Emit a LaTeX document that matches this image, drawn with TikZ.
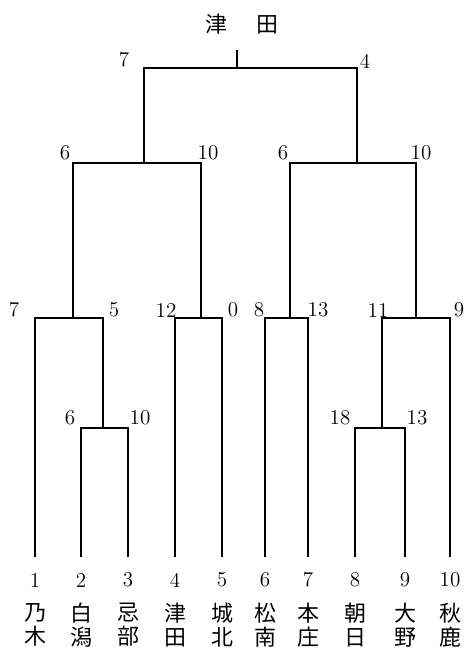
\documentclass[tikz,border=0pt]{standalone}
\usepackage{fontspec}
\newfontfamily\cjk{Noto Sans CJK JP}
\usetikzlibrary{positioning}

\begin{document}
\begin{tikzpicture}[
    x=0.02cm, y=-0.02cm,
    % bracket lines: path of a winning side heavier
    win/.style={line width=1.5pt, draw=black},
    lose/.style={line width=0.9pt, draw=black},
    score/.style={font=\fontsize{12}{13}\selectfont, inner sep=1pt},
    seed/.style={font=\fontsize{12}{13}\selectfont, inner sep=1pt},
    team/.style={font=\cjk\fontsize{12.5}{13.8}\selectfont,
                 align=center, inner sep=0pt}
]
\useasboundingbox (0,0) rectangle (466,653);
% ── TEAMS: seed number and school name ────────────────────────
\node[seed] (n1)  at ( 35,580) {1};   \node[team] (t1)  at ( 35,625) {乃\\木};
\node[seed] (n2)  at ( 81,580) {2};   \node[team] (t2)  at ( 81,625) {白\\潟};
\node[seed] (n3)  at (128,580) {3};   \node[team] (t3)  at (128,625) {忌\\部};
\node[seed] (n4)  at (175,580) {4};   \node[team] (t4)  at (175,625) {津\\田};
\node[seed] (n5)  at (222,580) {5};   \node[team] (t5)  at (222,625) {城\\北};
\node[seed] (n6)  at (265,580) {6};   \node[team] (t6)  at (265,625) {松\\南};
\node[seed] (n7)  at (308,580) {7};   \node[team] (t7)  at (308,625) {本\\庄};
\node[seed] (n8)  at (355,580) {8};   \node[team] (t8)  at (355,625) {朝\\日};
\node[seed] (n9)  at (405,580) {9};   \node[team] (t9)  at (405,625) {大\\野};
\node[seed] (n10) at (450,580) {10};  \node[team] (t10) at (450,625) {秋\\鹿};
% foot of each bracket line
\foreach \i/\xx in {1/35, 2/81, 3/128, 4/175, 5/222,
                    6/265, 7/308, 8/355, 9/405, 10/450}
    \coordinate (f\i) at (\xx,557);
% ── MATCH POINTS ──────────────────────────────────────────────
\coordinate (m23)  at (103,428);
\coordinate (m89)  at (382,428);
\coordinate (r1)   at ( 73,318);
\coordinate (r2)   at (201,318);
\coordinate (r3)   at (290,318);
\coordinate (r4)   at (416,318);
\coordinate (s1)   at (144,163);
\coordinate (s2)   at (357,163);
\coordinate (fin)  at (237, 68);
\coordinate (champ) at (237,50);
% ── FIRST ROUND ───────────────────────────────────────────────
\draw[lose] (f2) |- (m23);
\draw[win]  (f3) |- (m23);
\draw[win]  (f8) |- (m89);
\draw[lose] (f9) |- (m89);
\node[score] (sc2)  at ( 70,418) {6};
\node[score] (sc3)  at (140,418) {10};
\node[score] (sc8)  at (340,418) {18};
\node[score] (sc9)  at (417,418) {13};
% ── SECOND ROUND ──────────────────────────────────────────────
\draw[win]  (f1)  |- (r1);
\draw[win]  (m23) |- (r1);
\draw[win]  (f4)  |- (r2);
\draw[lose] (f5)  |- (r2);
\draw[lose] (f6)  |- (r3);
\draw[win]  (f7)  |- (r3);
\draw[win]  (m89) |- (r4);
\draw[lose] (f10) |- (r4);
\node[score] (sc1)  at ( 14,310) {7};
\node[score] (sc23) at (114,310) {5};
\node[score] (sc4)  at (166,310) {12};
\node[score] (sc5)  at (233,310) {0};
\node[score] (sc6)  at (259,310) {8};
\node[score] (sc7)  at (318,310) {13};
\node[score] (sc89) at (378,310) {11};
\node[score] (sc10) at (459,310) {9};
% ── SEMI-FINALS AND FINAL ─────────────────────────────────────
\draw[win] (r1) |- (s1);
\draw[win] (r2) |- (s1);
\draw[win] (r3) |- (s2);
\draw[win] (r4) |- (s2);
\draw[win] (s1) |- (fin);
\draw[win] (s2) |- (fin);
\draw[win] (fin) -- (champ);
\node[score] (scr1) at ( 65,153) {6};
\node[score] (scr2) at (208,153) {10};
\node[score] (scr3) at (283,153) {6};
\node[score] (scr4) at (421,153) {10};
\node[score] (scs1) at (124, 60) {7};
\node[score] (scs2) at (365, 61) {4};
% winner
\node[team] (title) at (242,24) {津\hspace{1.3em}田};
\end{tikzpicture}
\end{document}
